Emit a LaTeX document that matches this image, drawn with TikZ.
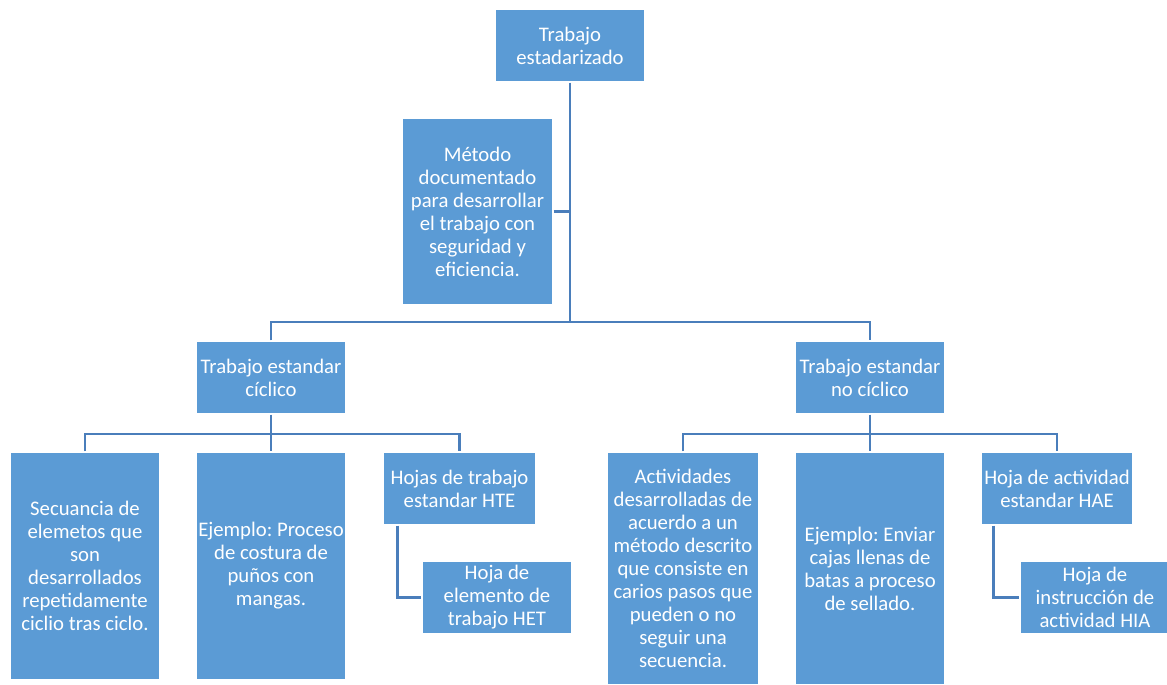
\documentclass[tikz,border=0pt]{standalone}
\usepackage{fontspec}
\setmainfont{Carlito}
\usetikzlibrary{positioning,calc}
\definecolor{boxblue}{HTML}{5B9BD5}
\definecolor{lineblue}{HTML}{4A7EBB}
\frenchspacing
\tikzset{
  box/.style={draw=white,line width=0.6pt,fill=boxblue,text=white,align=center,
              minimum width=3cm,minimum height=1.46cm,inner sep=1pt,
              font=\fontsize{11.8pt}{13.1pt}\selectfont},
  tallbox/.style={box,minimum height=4.56cm},
  conn/.style={draw=lineblue,line width=1.6pt}
}
\begin{document}
\begin{tikzpicture}[x=0.02cm,y=-0.02cm]
\useasboundingbox (0,0) rectangle (1167,685);
\node[box] (top) at (570,45.5) {Trabajo\\ estadarizado};
\node[box, minimum width=3.02cm, minimum height=3.74cm] (met) at (477.5,211.5)
   {Método\\ documentado\\ para desarrollar\\ el trabajo con\\ seguridad y\\ eficiencia.};
\node[box] (cyc) at (271,377.5) {Trabajo estandar\\ cíclico};
\node[box] (ncyc) at (870,377.5) {Trabajo estandar\\ no cíclico};

\node[tallbox] (sec) at (85,566) {Secuancia de\\ elemetos que\\ son\\ desarrollados\\ repetidamente\\ ciclio tras ciclo.};
\node[tallbox] (ejc) at (271,566) {Ejemplo: Proceso\\ de costura de\\ puños con\\ mangas.};
\node[box, minimum width=3.06cm] (hte) at (459.5,488.5) {Hojas de trabajo\\ estandar HTE};
\node[box] (het) at (497,597.5) {Hoja de\\ elemento de\\ trabajo HET};

\node[tallbox, minimum width=3.04cm, minimum height=4.66cm] (act) at (683,568.5)
   {Actividades\\ desarrolladas de\\ acuerdo a un\\ método descrito\\ que consiste en\\ carios pasos que\\ pueden o no\\ seguir una\\ secuencia.};
\node[tallbox, minimum height=4.66cm] (ejn) at (870,568.5) {Ejemplo: Enviar\\ cajas llenas de\\ batas a proceso\\ de sellado.};
\node[box, minimum width=3.04cm] (hae) at (1057,488.5) {Hoja de actividad\\ estandar HAE};
\node[box] (hia) at (1095,597.5) {Hoja de\\ instrucción de\\ actividad HIA};

% buses
\coordinate (bustop) at (570,322);
\coordinate (busl) at (271,434);
\coordinate (busr) at (870,434);

\draw[conn] (top.south) -- (bustop);
\draw[conn] (met.east) -- (met.east -| bustop);
\draw[conn] (cyc.north) |- (bustop) -| (ncyc.north);

\draw[conn] (cyc.south) -- (ejc.north);
\draw[conn] (sec.north) |- (busl) -| (hte.north);
\draw[conn] (ncyc.south) -- (ejn.north);
\draw[conn] (act.north) |- (busr) -| (hae.north);

\draw[conn] ($(hte.south west)+(15,0)$) |- (het.west);
\draw[conn] ($(hae.south west)+(13,0)$) |- (hia.west);
\end{tikzpicture}
\end{document}
